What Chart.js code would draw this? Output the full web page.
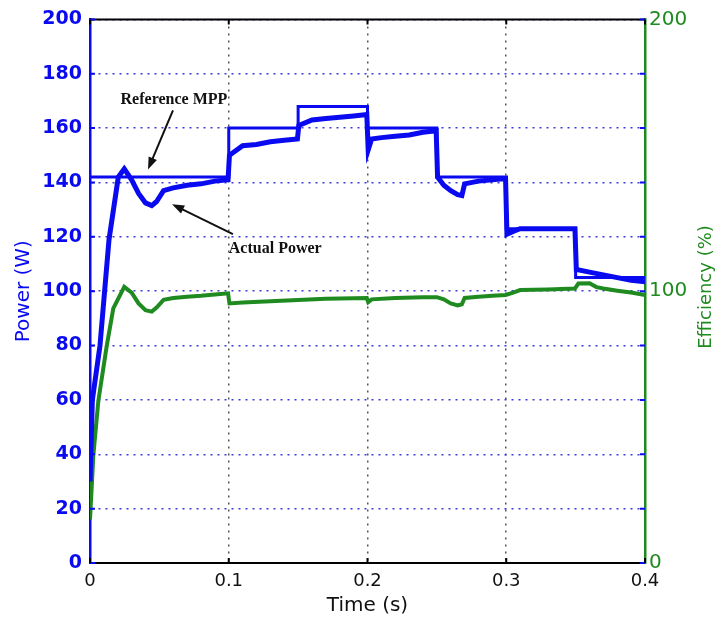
<!DOCTYPE html>
<html>
<head>
<meta charset="utf-8">
<script src="https://cdn.jsdelivr.net/npm/chart.js@4.4.1/dist/chart.umd.min.js"></script>
<style>
  body { margin: 0; background: #fff; }
  #wrap { width: 718px; height: 626px; }
</style>
</head>
<body>
<div id="wrap"><canvas id="chart"></canvas></div>
<script>
// Reference MPP (step profile)
const refTime  = [0, 0.1, 0.1, 0.15, 0.15, 0.2, 0.2, 0.25, 0.25, 0.3, 0.3, 0.35, 0.35, 0.4]
const refPower = [142, 142, 160, 160, 168, 168, 160, 160, 142, 142, 123, 123, 105, 105]

// Actual power
const powTime = [0, 0.0017, 0.0072, 0.0137, 0.0204, 0.0247, 0.03, 0.035, 0.04, 0.0445, 0.048, 0.053, 0.06, 0.07, 0.08, 0.09, 0.0995,
  0.1005, 0.11, 0.12, 0.13, 0.14, 0.1495, 0.1505, 0.16, 0.17, 0.18, 0.19, 0.1995, 0.2005, 0.203, 0.21, 0.22, 0.23, 0.24, 0.2495,
  0.2505, 0.255, 0.26, 0.265, 0.268, 0.27, 0.28, 0.29, 0.2995, 0.3005, 0.305, 0.31, 0.32, 0.33, 0.34, 0.3495,
  0.3505, 0.36, 0.37, 0.38, 0.39, 0.4]
const powValue = [30, 60, 80, 119, 142, 145, 141, 136, 132.5, 131.5, 133, 137, 138, 139, 139.5, 140.5, 141,
  150, 153.5, 154, 155, 155.5, 156, 161, 163, 163.5, 164, 164.5, 165, 152, 156, 156.5, 157, 157.5, 158.5, 159,
  142, 139, 137, 135.5, 135.2, 139.5, 140.5, 141, 141.5, 121, 122, 123, 123, 123, 123, 123,
  108, 107, 106, 105, 104, 103.5]

// Efficiency (right axis)
const effTime = [0, 0.0024, 0.006, 0.012, 0.0168, 0.0247, 0.03, 0.035, 0.04, 0.0445, 0.048, 0.053, 0.06, 0.07, 0.08, 0.09, 0.0995,
  0.1005, 0.11, 0.13, 0.15, 0.17, 0.1995, 0.2005, 0.203, 0.22, 0.24, 0.25, 0.255, 0.26, 0.265, 0.268, 0.27, 0.28, 0.29, 0.2995,
  0.305, 0.31, 0.33, 0.3495, 0.352, 0.36, 0.365, 0.37, 0.38, 0.39, 0.4]
const effValue = [16, 39.5, 59.6, 79.7, 93.7, 101.6, 99.5, 95.5, 93, 92.5, 94, 96.8, 97.5, 98, 98.3, 98.8, 99.2,
  95.5, 95.8, 96.3, 96.8, 97.2, 97.5, 96, 97, 97.5, 97.8, 97.8, 97, 95.5, 94.8, 95.2, 97.5, 98, 98.3, 98.6,
  99.5, 100.4, 100.6, 101, 102.8, 102.9, 101.5, 101, 100.2, 99.5, 98.6]

// Tick labels
const timeTicks = [0, 0.1, 0.2, 0.3, 0.4]
const powerTicks = [0, 20, 40, 60, 80, 100, 120, 140, 160, 180, 200]
const effTicks = [0, 100, 200]

// Annotations (data coordinates)
const notes = [
  { text: 'Reference MPP', x: 0.0605, y: 170.5, from: [0.0598, 166.5], to: [0.0418, 144.8] },
  { text: 'Actual Power', x: 0.1335, y: 115.5, from: [0.103, 121], to: [0.0591, 132] }
]

const BLUE = '#0a0af0'
const GREEN = '#1f8a1f'

function pts(xs, ys) {
  return xs.map((x, i) => ({ x: x, y: ys[i] }))
}

// top frame line, small inward ticks, right title and the arrow notes
const framePlugin = {
  id: 'frame',
  afterDatasetsDraw(chart) {
    const ctx = chart.ctx
    const a = chart.chartArea
    const xs = chart.scales.x
    const ys = chart.scales.y
    ctx.save()
    ctx.strokeStyle = '#000'
    ctx.lineWidth = 2
    ctx.beginPath()
    ctx.moveTo(a.left, a.top)
    ctx.lineTo(a.right, a.top)
    ctx.stroke()

    // inward ticks
    ctx.strokeStyle = BLUE
    powerTicks.forEach(v => {
      const py = ys.getPixelForValue(v)
      ctx.beginPath()
      ctx.moveTo(a.left, py); ctx.lineTo(a.left + 5, py)
      ctx.moveTo(a.right, py); ctx.lineTo(a.right - 5, py)
      ctx.stroke()
    })
    ctx.strokeStyle = '#000'
    timeTicks.forEach(t => {
      const px = xs.getPixelForValue(t)
      ctx.beginPath()
      ctx.moveTo(px, a.bottom); ctx.lineTo(px, a.bottom - 5)
      ctx.moveTo(px, a.top); ctx.lineTo(px, a.top + 5)
      ctx.stroke()
    })

    // right axis title, reading upwards like the left one
    ctx.save()
    ctx.translate(706, 287)
    ctx.rotate(-Math.PI / 2)
    ctx.fillStyle = GREEN
    ctx.font = '18px "DejaVu Sans"'
    ctx.textAlign = 'center'
    ctx.textBaseline = 'middle'
    ctx.fillText('Efficiency (%)', 0, 0)
    ctx.restore()

    // notes with arrows
    ctx.fillStyle = '#111'
    ctx.strokeStyle = '#111'
    ctx.font = 'bold 16px "Liberation Serif"'
    ctx.textAlign = 'center'
    ctx.textBaseline = 'middle'
    notes.forEach(n => {
      ctx.fillText(n.text, xs.getPixelForValue(n.x), ys.getPixelForValue(n.y))
      const x1 = xs.getPixelForValue(n.from[0]), y1 = ys.getPixelForValue(n.from[1])
      const x2 = xs.getPixelForValue(n.to[0]), y2 = ys.getPixelForValue(n.to[1])
      const ang = Math.atan2(y2 - y1, x2 - x1)
      const head = 13
      ctx.lineWidth = 2
      ctx.beginPath()
      ctx.moveTo(x1, y1)
      ctx.lineTo(x2 - Math.cos(ang) * head * 0.8, y2 - Math.sin(ang) * head * 0.8)
      ctx.stroke()
      ctx.beginPath()
      ctx.moveTo(x2, y2)
      ctx.lineTo(x2 - head * Math.cos(ang - 0.35), y2 - head * Math.sin(ang - 0.35))
      ctx.lineTo(x2 - head * Math.cos(ang + 0.35), y2 - head * Math.sin(ang + 0.35))
      ctx.closePath()
      ctx.fill()
    })
    ctx.restore()
  }
}

const chart = new Chart(document.getElementById('chart'), {
  type: 'line',
  data: {
    datasets: [
      {
        label: 'Reference MPP',
        data: pts(refTime, refPower),
        borderColor: BLUE,
        borderWidth: 3,
        pointRadius: 0,
        yAxisID: 'y'
      },
      {
        label: 'Actual Power',
        data: pts(powTime, powValue),
        borderColor: BLUE,
        borderWidth: 5,
        pointRadius: 0,
        yAxisID: 'y'
      },
      {
        label: 'Efficiency',
        data: pts(effTime, effValue),
        borderColor: GREEN,
        borderWidth: 4,
        pointRadius: 0,
        yAxisID: 'y1'
      }
    ]
  },
  options: {
    responsive: true,
    maintainAspectRatio: false,
    animation: false,
    layout: { padding: { top: 16, left: 0, right: 0, bottom: 0 } },
    plugins: {
      legend: { display: false },
      tooltip: { enabled: false }
    },
    scales: {
      x: {
        type: 'linear',
        min: 0,
        max: 0.4,
        afterBuildTicks: s => { s.ticks = timeTicks.map(v => ({ value: v })) },
        afterFit: s => { s.height = 63 },
        border: { color: '#000', width: 2, dash: [2, 5] },
        grid: { color: '#555', lineWidth: 1.5, drawTicks: false },
        ticks: {
          color: '#111',
          padding: 8,
          font: { family: 'DejaVu Sans', size: 18 },
          callback: v => String(v)
        },
        title: {
          display: true,
          text: 'Time (s)',
          color: '#111',
          font: { family: 'DejaVu Sans', size: 20 },
          padding: { top: 0, bottom: 8 }
        }
      },
      y: {
        position: 'left',
        min: 0,
        max: 200,
        afterBuildTicks: s => { s.ticks = powerTicks.map(v => ({ value: v })) },
        afterFit: s => { s.width = 90 },
        border: { color: BLUE, width: 2.5, dash: [2, 5] },
        grid: { color: '#3a3ad8', lineWidth: 1.5, drawTicks: false },
        ticks: {
          color: BLUE,
          padding: 8,
          font: { family: 'DejaVu Sans', size: 19, weight: 'bold' }
        },
        title: {
          display: true,
          text: 'Power (W)',
          color: BLUE,
          font: { family: 'DejaVu Sans', size: 20 },
          padding: { top: 12, bottom: 0 }
        }
      },
      y1: {
        position: 'right',
        min: 0,
        max: 200,
        afterBuildTicks: s => { s.ticks = effTicks.map(v => ({ value: v })) },
        afterFit: s => { s.width = 73 },
        border: { color: GREEN, width: 2.5 },
        grid: { drawOnChartArea: false, drawTicks: false },
        ticks: {
          color: GREEN,
          padding: 4,
          font: { family: 'DejaVu Sans', size: 20 }
        },
        title: { display: false }
      }
    }
  },
  plugins: [framePlugin]
})
</script>
</body>
</html>
